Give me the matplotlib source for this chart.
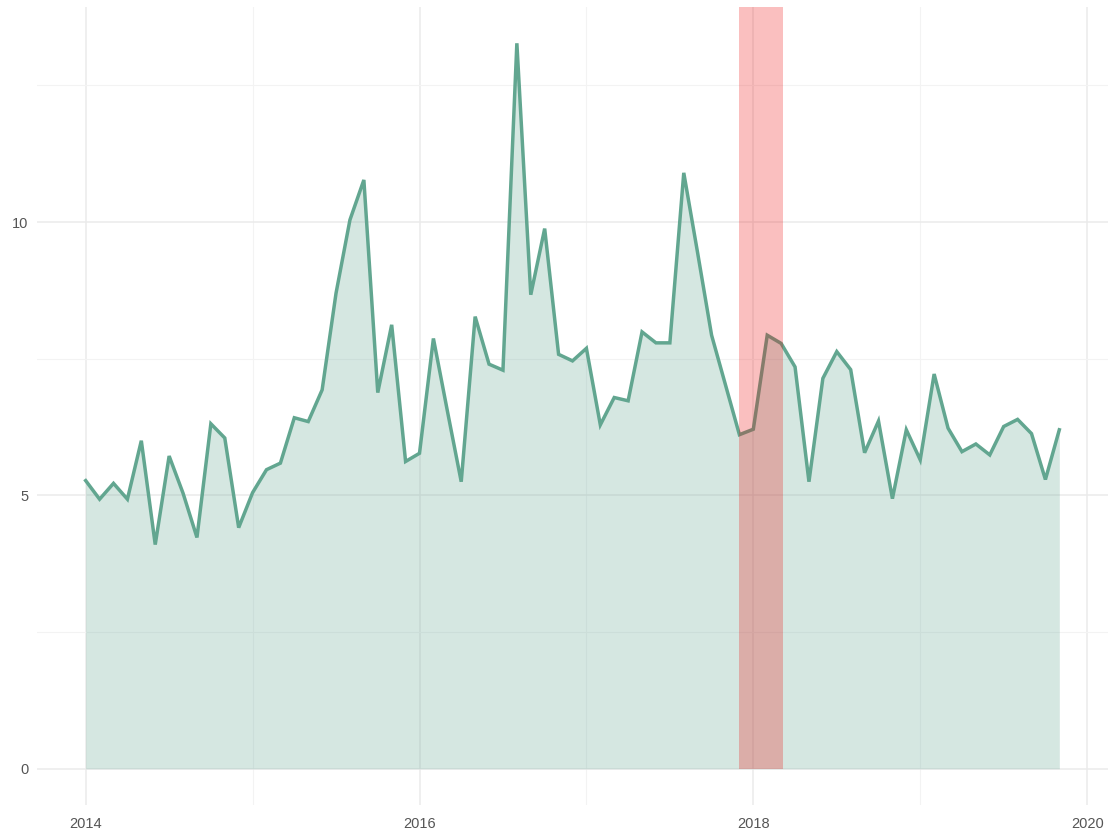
import numpy as np
import matplotlib
matplotlib.use("Agg")
import matplotlib.pyplot as plt

# monthly series, Jan 2014 .. Nov 2019
start_year = 2014
values = [
    5.27, 4.93, 5.22, 4.93, 6.00, 4.10, 5.72, 5.04, 4.23, 6.31, 6.05, 4.41,  # 2014
    5.05, 5.47, 5.59, 6.42, 6.35, 6.93, 8.70, 10.04, 10.77, 6.88, 8.12, 5.62,  # 2015
    5.77, 7.87, 6.55, 5.25, 8.27, 7.40, 7.29, 13.27, 8.67, 9.88, 7.58, 7.46,  # 2016
    7.69, 6.29, 6.79, 6.73, 7.99, 7.79, 7.79, 10.90, 9.43, 7.93, 7.02, 6.11,  # 2017
    6.21, 7.93, 7.78, 7.35, 5.25, 7.14, 7.63, 7.30, 5.78, 6.36, 4.94, 6.20,  # 2018
    5.65, 7.22, 6.23, 5.80, 5.94, 5.74, 6.26, 6.39, 6.13, 5.29, 6.20,  # 2019
]
span_start = 2017 + 11 / 12
span_end = 2018 + 2.1 / 12
x_ticks = [2014, 2016, 2018, 2020]
y_ticks = [0, 5, 10]

x = start_year + np.arange(len(values)) / 12.0
y = np.array(values)

plt.rcParams['font.family'] = ['Liberation Sans', 'DejaVu Sans']

W, H = 1110, 831
fig = plt.figure(figsize=(W / 100, H / 100), dpi=100)
ax = fig.add_axes([37 / W, (H - 805) / H, (1108 - 37) / W, (805 - 7) / H])

green = "#62A690"
ax.fill_between(x, 0, y, color="#6AAA96", alpha=0.28, linewidth=0, zorder=2)
ax.plot(x, y, color=green, linewidth=2.5, zorder=3, solid_joinstyle="miter")

xr = x.max() - x.min()
ax.set_xlim(x.min() - 0.05 * xr, x.max() + 0.05 * xr)
yr = y.max()
y0, y1 = -0.05 * yr, y.max() + 0.05 * yr
ax.set_ylim(y0, y1)

# highlighted period: from zero up to the top of the panel
ax.fill_between([span_start, span_end], 0, y1, color="#EE0000", alpha=0.25,
                linewidth=0, zorder=4)

ax.set_xticks(x_ticks)
ax.set_xticklabels([str(t) for t in x_ticks])
ax.set_xticks([2015, 2017, 2019], minor=True)
ax.set_yticks(y_ticks)
ax.set_yticklabels([str(t) for t in y_ticks])
ax.set_yticks([2.5, 7.5, 12.5], minor=True)

ax.grid(which="major", color="#EBEBEB", linewidth=1.1, zorder=0)
ax.grid(which="minor", color="#F3F3F3", linewidth=0.8, zorder=0)
ax.set_axisbelow(True)
for s in ax.spines.values():
    s.set_visible(False)
ax.tick_params(which="both", length=0)
ax.tick_params(axis="x", pad=9, labelsize=10.5, labelcolor="#555555")
ax.tick_params(axis="y", pad=6, labelsize=10.5, labelcolor="#555555")

fig.savefig("out.png", dpi=100)
